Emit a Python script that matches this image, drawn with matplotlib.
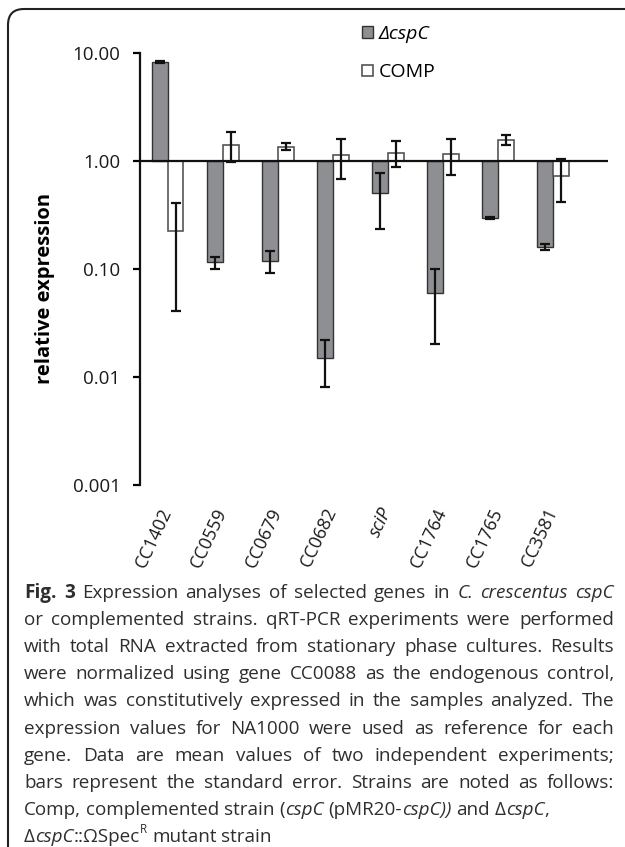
import numpy as np
import matplotlib.pyplot as plt
from matplotlib.patches import FancyBboxPatch
from matplotlib.transforms import IdentityTransform

# Data (log scale, bars start at 1.0)
genes = ['CC1402', 'CC0559', 'CC0679', 'CC0682', 'sciP', 'CC1764', 'CC1765', 'CC3581']
dcspc = [8.2, 0.115, 0.119, 0.015, 0.505, 0.060, 0.294, 0.160]
dcspc_err = [0.1, 0.015, 0.028, 0.007, 0.27, 0.04, 0.005, 0.01]
comp = [0.226, 1.40, 1.35, 1.13, 1.19, 1.16, 1.56, 0.726]
comp_err = [0.185, 0.43, 0.10, 0.45, 0.32, 0.42, 0.17, 0.31]
yticks = [0.001, 0.01, 0.1, 1, 10]
ytick_labels = ['0.001', '0.01', '0.10', '1.00', '10.00']

# caption markup: _ toggles italic, # toggles bold, ^x = superscript x
caption = [
    '#Fig. 3# Expression analyses of selected genes in _C. crescentus cspC_',
    'or complemented strains. qRT-PCR experiments were performed',
    'with total RNA extracted from stationary phase cultures. Results',
    'were normalized using gene CC0088 as the endogenous control,',
    'which was constitutively expressed in the samples analyzed. The',
    'expression values for NA1000 were used as reference for each',
    'gene. Data are mean values of two independent experiments;',
    'bars represent the standard error. Strains are noted as follows:',
    'Comp, complemented strain (_cspC_ (pMR20-_cspC))_ and Δ_cspC_,',
    'Δ_cspC_::ΩSpec^R mutant strain',
]
n_justified = 8

W, H = 625, 847
plt.rcParams['font.family'] = ['Open Sans', 'DejaVu Sans']

fig = plt.figure(figsize=(W / 100, H / 100), dpi=100)
ax = fig.add_axes([140 / W, 1 - 485 / H, (608 - 140) / W, (485 - 52.7) / H])

x = np.arange(len(genes))
bw = 0.29
d = np.array(dcspc)
c = np.array(comp)

ax.bar(x - bw / 2, d - 1, bottom=1, width=bw, color='#8e8f93', edgecolor='#333333',
       linewidth=1.0, label='ΔcspC', zorder=2)
ax.bar(x + bw / 2, c - 1, bottom=1, width=bw, color='white', edgecolor='#555555',
       linewidth=1.2, label='COMP', zorder=2)
ax.errorbar(x - bw / 2, d, yerr=dcspc_err, fmt='none', ecolor='#111111',
            elinewidth=1.6, capsize=3.6, capthick=1.6, zorder=5)
ax.errorbar(x + bw / 2, c, yerr=comp_err, fmt='none', ecolor='#111111',
            elinewidth=1.6, capsize=3.6, capthick=1.6, zorder=5)
ax.axhline(1, color='#111111', linewidth=1.6, zorder=4)

ax.set_yscale('log')
ax.set_ylim(0.001, 10)
ax.set_xlim(-0.5, 8.0)
ax.set_yticks(yticks)
ax.set_yticklabels(ytick_labels)
ax.minorticks_off()
for s in ['top', 'right', 'bottom']:
    ax.spines[s].set_visible(False)
ax.spines['left'].set_linewidth(1.6)
ax.spines['left'].set_color('#111111')
ax.tick_params(axis='y', direction='out', length=5, width=1.6, labelsize=13.5, pad=9,
               labelcolor='#1a1a1a')
ax.set_xticks(x)
ax.set_xticklabels(genes, rotation=65, ha='right', va='center', rotation_mode='anchor')
ax.tick_params(axis='x', length=0, pad=17, labelsize=13, labelcolor='#1a1a1a')
ax.get_xticklabels()[4].set_style('italic')

fig.text(45 / W, 1 - 288 / H, 'relative expression', rotation=90, weight='bold',
         fontsize=14.5, ha='center', va='center')

leg = ax.legend(loc='upper left', bbox_to_anchor=(362 / W, 1 - 25 / H),
                bbox_transform=fig.transFigure, frameon=False, fontsize=14,
                handlelength=0.55, handleheight=0.55, handletextpad=0.3,
                labelspacing=1.05, borderpad=0, borderaxespad=0)
leg.get_texts()[0].set_style('italic')

# rounded frame, only left and top edges fall inside the picture
frame = FancyBboxPatch((8, -40), 700, (H - 9) + 40, boxstyle='round,pad=0,rounding_size=16',
                       transform=IdentityTransform(), fill=False, edgecolor='#222222',
                       linewidth=1.5)
fig.add_artist(frame)

# caption, justified like the journal layout
renderer = fig.canvas.get_renderer()
CAP_PT = 13.6
CAP_PX = CAP_PT * 100 / 72
LEFT, RIGHT = 24, 614
BASE0, STEP = 598, 27.1


def parse(line):
    words, italic, bold = [], False, False
    for w in line.split(' '):
        segs, buf, i = [], '', 0
        while i < len(w):
            ch = w[i]
            if ch in '_#^':
                if buf:
                    segs.append((buf, italic, bold, False))
                    buf = ''
                if ch == '_':
                    italic = not italic
                elif ch == '#':
                    bold = not bold
                else:
                    segs.append((w[i + 1], italic, bold, True))
                    i += 1
            else:
                buf += ch
            i += 1
        if buf:
            segs.append((buf, italic, bold, False))
        words.append(segs)
    return words


def make(s, it, bd, sup):
    return fig.text(0, 0, s, fontsize=CAP_PT * (0.62 if sup else 1),
                    style='italic' if it else 'normal', weight='bold' if bd else 'normal',
                    ha='left', va='baseline', color='#2e2e2e')


t1 = make('n n', False, False, False)
t2 = make('nn', False, False, False)
space = t1.get_window_extent(renderer).width - t2.get_window_extent(renderer).width
t1.remove()
t2.remove()

for k, line in enumerate(caption):
    yb = BASE0 + STEP * k
    words = parse(line)
    placed = []
    for segs in words:
        items = []
        for s, it, bd, sup in segs:
            t = make(s, it, bd, sup)
            items.append((t, t.get_window_extent(renderer).width, sup))
        placed.append(items)
    widths = [sum(w for _, w, _ in items) for items in placed]
    gap = space
    if k < n_justified and len(placed) > 1:
        gap = (RIGHT - LEFT - sum(widths)) / (len(placed) - 1)
    xp = LEFT
    for items, ww in zip(placed, widths):
        xs = xp
        for t, w, sup in items:
            yy = yb - (0.45 * CAP_PX if sup else 0)
            t.set_position((xs / W, 1 - yy / H))
            xs += w
        xp += ww + gap

fig.savefig('out.png', dpi=100)
